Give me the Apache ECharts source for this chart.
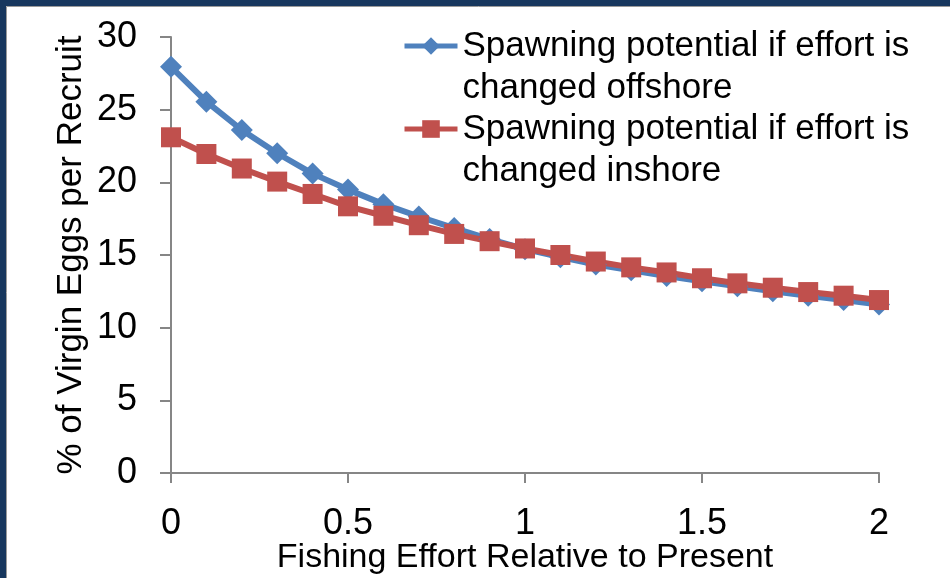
<!DOCTYPE html>
<html>
<head>
<meta charset="utf-8">
<script src="https://cdn.jsdelivr.net/npm/echarts@6/dist/echarts.min.js"></script>
<style>
html,body{margin:0;padding:0;background:#fff;}
#chart{width:950px;height:578px;}
</style>
</head>
<body>
<div id="chart"></div>
<script>
var effort = [0,0.1,0.2,0.3,0.4,0.5,0.6,0.7,0.8,0.9,1.0,1.1,1.2,1.3,1.4,1.5,1.6,1.7,1.8,1.9,2.0];
var offshore = [27.95,25.55,23.6,22.0,20.6,19.5,18.5,17.65,16.85,16.1,15.4,14.85,14.35,13.95,13.55,13.2,12.85,12.5,12.2,11.9,11.6];
var inshore = [23.1,21.95,20.95,20.05,19.2,18.35,17.7,17.05,16.45,15.95,15.45,15.0,14.55,14.15,13.8,13.4,13.05,12.75,12.45,12.2,11.9];
var xTicks = [0,0.5,1,1.5,2];
var yTicks = [0,5,10,15,20,25,30];
var nameOff = 'Spawning potential if effort is\nchanged offshore';
var nameIn = 'Spawning potential if effort is\nchanged inshore';

var FONT = "'Liberation Sans Narrow', 'Liberation Sans', sans-serif";
var LH = 42;

function pairs(xs, ys){ return xs.map(function(x,i){ return [x, ys[i]]; }); }

var chart = echarts.init(document.getElementById('chart'), null, {renderer:'canvas'});
var legendText = {fontFamily: FONT, fontSize: 35, color:'#000', lineHeight: LH};
function legendFmt(n){ return '\n' + n; }
chart.setOption({
  animation:false,
  backgroundColor:'#fff',
  textStyle:{fontFamily:FONT},
  graphic:[
    {type:'rect', shape:{x:0,y:0,width:950,height:6}, style:{fill:'#17375E'}, z:100},
    {type:'rect', shape:{x:0,y:0,width:6,height:578}, style:{fill:'#17375E'}, z:100},
    {type:'line', shape:{x1:6.5,y1:6.5,x2:950,y2:6.5}, style:{stroke:'#9a9a9a',lineWidth:1}, z:100},
    {type:'line', shape:{x1:6.5,y1:6.5,x2:6.5,y2:578}, style:{stroke:'#9a9a9a',lineWidth:1}, z:100}
  ],
  grid:{left:171, right:71, top:37, bottom:105, containLabel:false, outerBoundsMode:'none'},
  legend:[
    {data:[nameOff], left:402, top:-17, padding:0, itemWidth:53, itemHeight:22, itemGap:0, textStyle:legendText, formatter:legendFmt, selectedMode:false, lineStyle:{width:5}},
    {data:[nameIn], left:402, top:66, padding:0, itemWidth:53, itemHeight:22, itemGap:0, textStyle:legendText, formatter:legendFmt, selectedMode:false, lineStyle:{width:5}}
  ],
  xAxis:{
    type:'value', min:0, max:2, interval:0.5,
    name:'Fishing Effort Relative to Present', nameLocation:'middle', nameGap:68, nameMoveOverlap:false,
    nameTextStyle:{fontFamily:FONT, fontSize:34, color:'#000'},
    axisLine:{show:true, lineStyle:{color:'#868686', width:2}},
    axisTick:{show:true, length:10, lineStyle:{color:'#868686', width:2}},
    axisLabel:{margin:33, fontFamily:FONT, fontSize:36, color:'#000',
      formatter:function(v){ return xTicks.indexOf(v)>=0 ? String(v) : ''; }},
    splitLine:{show:false}
  },
  yAxis:{
    type:'value', min:0, max:30, interval:5,
    name:'% of Virgin Eggs per Recruit', nameLocation:'middle', nameGap:82, nameRotate:90, nameMoveOverlap:false,
    nameTextStyle:{fontFamily:"'Liberation Sans', sans-serif", fontSize:35, color:'#000'},
    axisLine:{show:true, lineStyle:{color:'#868686', width:2}},
    axisTick:{show:true, length:11, lineStyle:{color:'#868686', width:2}},
    axisLabel:{margin:34, fontFamily:FONT, fontSize:36, color:'#000',
      formatter:function(v){ return yTicks.indexOf(v)>=0 ? String(v) : ''; }},
    splitLine:{show:false}
  },
  series:[
    {name:nameOff, type:'line', data:pairs(effort, offshore), symbol:'diamond', symbolSize:22,
      lineStyle:{color:'#4F81BD', width:6}, itemStyle:{color:'#4F81BD'}},
    {name:nameIn, type:'line', data:pairs(effort, inshore), symbol:'rect', symbolSize:20,
      lineStyle:{color:'#C0504D', width:6}, itemStyle:{color:'#C0504D'}}
  ]
});
</script>
</body>
</html>
